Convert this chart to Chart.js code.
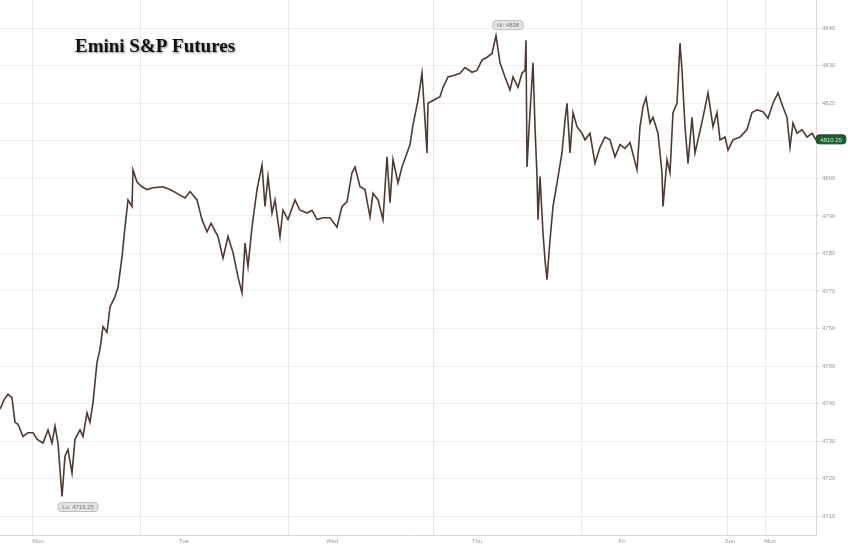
<!DOCTYPE html>
<html>
<head>
<meta charset="utf-8">
<script src="https://cdn.jsdelivr.net/npm/chart.js@4.4.1/dist/chart.umd.min.js"></script>
<style>
  html, body { margin: 0; padding: 0; background: #ffffff; }
  #wrap { width: 848px; height: 546px; position: relative; }
</style>
</head>
<body>
<div id="wrap"><canvas id="chart" width="848" height="546"></canvas></div>
<script>
// bar index (2 px per bar in the original) and price
const bars = [0, 2, 4, 6, 7.5, 9, 11.5, 14, 16.5, 18.5, 21.5, 24, 26, 27.5, 29, 31, 32.5, 34, 36, 37.5,
  40, 41.5, 43.5, 45, 46.5, 48.5, 50, 51.5, 53.5, 55, 57.5, 59, 61, 62.5, 64, 66, 66.5, 68.5, 71, 73.5,
  76.5, 81.5, 85, 88.5, 92.5, 95, 98.5, 101, 103.5, 105.5, 109, 111.5, 114, 116.5, 119, 121, 122.5, 124, 126, 128.5,
  131, 132.5, 134, 136, 137.5, 140, 141.5, 144, 147.5, 150, 153.5, 156, 158.5, 161.5, 165, 168.5, 171, 173.5, 176, 177.5,
  180, 182.5, 185, 186.5, 189, 191.5, 193.5, 195, 196.5, 199, 201, 203.5, 205, 206.5, 209, 211, 212.5, 213.5, 214, 216.5,
  220, 221.5, 224, 227.5, 230, 232.5, 236, 238.5, 241, 243.5, 246, 248, 250, 252.5, 255, 256.5, 259, 261, 262.5, 263,
  263.5, 264.5, 266.5, 267.5, 268.5, 269, 270, 271.5, 272.5, 273.5, 275, 276.5, 278.5, 281, 282.5, 283.5, 285, 286.5, 288.5, 291,
  292.5, 295, 297.5, 300, 302.5, 305, 307.5, 310, 312.5, 315, 318.5, 320, 321.5, 323, 325, 326.5, 329, 331, 331.5, 333.5,
  335, 336.5, 338.5, 340, 341, 342.5, 344, 346, 347.5, 349, 351.5, 354, 356.5, 358.5, 360, 362.5, 364, 366.5, 370, 373.5,
  376, 378.5, 381.5, 384, 386.5, 389, 391.5, 393.5, 395, 396.5, 398.5, 401, 403.5, 406, 408];
const prices = [4738.5, 4741, 4742.5, 4741.5, 4735, 4734.5, 4731.25, 4732.25, 4732.25, 4730.5, 4729.5, 4733, 4729.5, 4734, 4729.5, 4715.25, 4726, 4727.75, 4721.5, 4730.5,
  4733, 4731.25, 4737.5, 4735, 4740.25, 4751, 4754.5, 4760.5, 4759, 4765.75, 4768.5, 4771, 4779, 4787, 4794.25, 4792.5, 4802.25, 4799, 4797.75, 4797,
  4797.5, 4797.75, 4797, 4796, 4794.75, 4796.5, 4794.25, 4789, 4785.75, 4788, 4784.5, 4778.75, 4784.5, 4780.25, 4773.75, 4769.5, 4782.75, 4776.5, 4787, 4797,
  4803.5, 4792.5, 4800.5, 4790.75, 4794.25, 4784.5, 4791.5, 4789, 4794.25, 4791.5, 4790.75, 4791.5, 4789, 4789.5, 4789.5, 4787, 4792.5, 4793.75, 4801.5, 4803,
  4797.75, 4797, 4789.75, 4796, 4794.25, 4789, 4805.75, 4793.5, 4805, 4798.75, 4803, 4806.75, 4809, 4814.25, 4820.75, 4828, 4815.5, 4806.75, 4820, 4820.75,
  4821.75, 4824.25, 4827, 4827.5, 4828, 4829.5, 4828.25, 4828.75, 4831.5, 4832.25, 4833.25, 4838, 4830.75, 4827, 4823.5, 4827, 4824.25, 4828, 4828.75, 4836.75,
  4803, 4813, 4830.75, 4813.75, 4800.5, 4789, 4800.5, 4785.5, 4778.25, 4773, 4783.5, 4792.5, 4798.75, 4806.75, 4815.5, 4820, 4806.75, 4817.5, 4813.75, 4812,
  4810.25, 4812, 4804, 4808.25, 4811, 4810.25, 4805.75, 4809, 4808, 4809.5, 4802.25, 4813.75, 4819, 4821.5, 4814.75, 4816.25, 4812, 4801.5, 4792.5, 4805,
  4801.5, 4817.5, 4820, 4836, 4828.75, 4813.75, 4804, 4816.25, 4806.75, 4810.25, 4816.25, 4822.75, 4813.75, 4817.5, 4810.25, 4811, 4807.5, 4810.25, 4811, 4813,
  4817.5, 4818.25, 4817.75, 4816, 4820, 4822.75, 4819, 4816.25, 4808.25, 4814.75, 4812, 4813, 4811, 4812, 4810.25];

const yTicks = [4710, 4720, 4730, 4740, 4750, 4760, 4770, 4780, 4790, 4800, 4810, 4820, 4830, 4840];
const sessionBreaks = [16, 70, 144, 216.5, 290.5, 363.5, 382.5];
const dayLabelPos = [19, 92, 166, 238.5, 311, 365, 385];
const dayLabels = ['Mon', 'Tue', 'Wed', 'Thu', 'Fri', 'Sun', 'Mon'];

const title = 'Emini S&P Futures';

// Hi / Lo / last price markers + title
const markers = {
    id: 'markers',
    afterDatasetsDraw(chart) {
        const { ctx, scales } = chart;
        const x = scales.x, y = scales.y;
        const lo = prices.indexOf(Math.min(...prices));
        const hi = prices.indexOf(Math.max(...prices));
        const last = prices.length - 1;

        function tag(text, cx, top, bg, border, color) {
            ctx.save();
            ctx.font = '6px "Liberation Sans", Arial, sans-serif';
            const w = ctx.measureText(text).width + 8;
            const h = 9;
            ctx.beginPath();
            ctx.roundRect(cx - w / 2, top, w, h, 3);
            ctx.fillStyle = bg;
            ctx.fill();
            ctx.strokeStyle = border;
            ctx.lineWidth = 1;
            ctx.stroke();
            ctx.fillStyle = color;
            ctx.textAlign = 'center';
            ctx.textBaseline = 'middle';
            ctx.fillText(text, cx, top + h / 2 + 0.5);
            ctx.restore();
        }

        tag('Lo: ' + prices[lo].toFixed(2), x.getPixelForValue(bars[lo]) + 16, y.getPixelForValue(prices[lo]) + 6, '#e4e4e4', '#bdbdbd', '#777');
        tag('Hi: ' + prices[hi], x.getPixelForValue(bars[hi]) + 12, y.getPixelForValue(prices[hi]) - 15, '#e4e4e4', '#bdbdbd', '#777');
        tag(prices[last].toFixed(2), x.right + 15, y.getPixelForValue(prices[last]) - 5, '#1d5e33', '#144a27', '#cfe8d3');

        ctx.save();
        ctx.font = 'bold 19px "Liberation Serif", "Times New Roman", serif';
        ctx.fillStyle = '#111';
        ctx.shadowColor = 'rgba(0,0,0,0.45)';
        ctx.shadowBlur = 2;
        ctx.shadowOffsetX = 1;
        ctx.shadowOffsetY = 1;
        ctx.textBaseline = 'middle';
        ctx.fillText(title, 75, 47);
        ctx.restore();
    }
};

const ctx = document.getElementById('chart').getContext('2d');

new Chart(ctx, {
    type: 'line',
    data: {
        datasets: [{
            data: bars.map((b, i) => ({ x: b, y: prices[i] })),
            borderColor: '#4e3a33',
            borderWidth: 1.6,
            pointRadius: 0,
            tension: 0,
            fill: false,
        }]
    },
    options: {
        responsive: false,
        animation: false,
        layout: { padding: 0 },
        plugins: {
            legend: { display: false },
            tooltip: { enabled: false },
        },
        scales: {
            x: {
                type: 'linear',
                min: 0,
                max: 408,
                position: 'bottom',
                afterBuildTicks: s => { s.ticks = sessionBreaks.map(v => ({ value: v })); },
                afterFit: s => { s.height = 0; s.paddingLeft = 0; s.paddingRight = 0; },
                ticks: { display: false },
                grid: { color: '#e8e8e8', drawTicks: false },
                border: { color: '#d8d8d8' },
            },
            x2: {
                type: 'linear',
                min: 0,
                max: 408,
                position: 'bottom',
                afterBuildTicks: s => { s.ticks = dayLabelPos.map(v => ({ value: v })); },
                afterFit: s => { s.height = 11; s.paddingLeft = 0; s.paddingRight = 0; },
                ticks: {
                    autoSkip: false,
                    maxRotation: 0,
                    padding: 3,
                    color: '#999',
                    font: { size: 6, family: '"Liberation Sans", Arial, sans-serif' },
                    callback: (v, i) => dayLabels[i],
                },
                grid: { display: false, drawTicks: false },
                border: { display: false },
            },
            y: {
                position: 'right',
                min: 4705,
                max: 4847.5,
                afterBuildTicks: s => { s.ticks = yTicks.map(v => ({ value: v })); },
                afterFit: s => { s.width = 32; s.paddingTop = 0; s.paddingBottom = 0; },
                ticks: {
                    padding: 3,
                    color: '#999',
                    font: { size: 6, family: '"Liberation Sans", Arial, sans-serif' },
                    callback: v => String(v),
                },
                grid: { color: '#efefef', tickColor: '#cfcfcf', tickLength: 3 },
                border: { color: '#d8d8d8' },
            }
        }
    },
    plugins: [markers]
});
</script>
</body>
</html>
